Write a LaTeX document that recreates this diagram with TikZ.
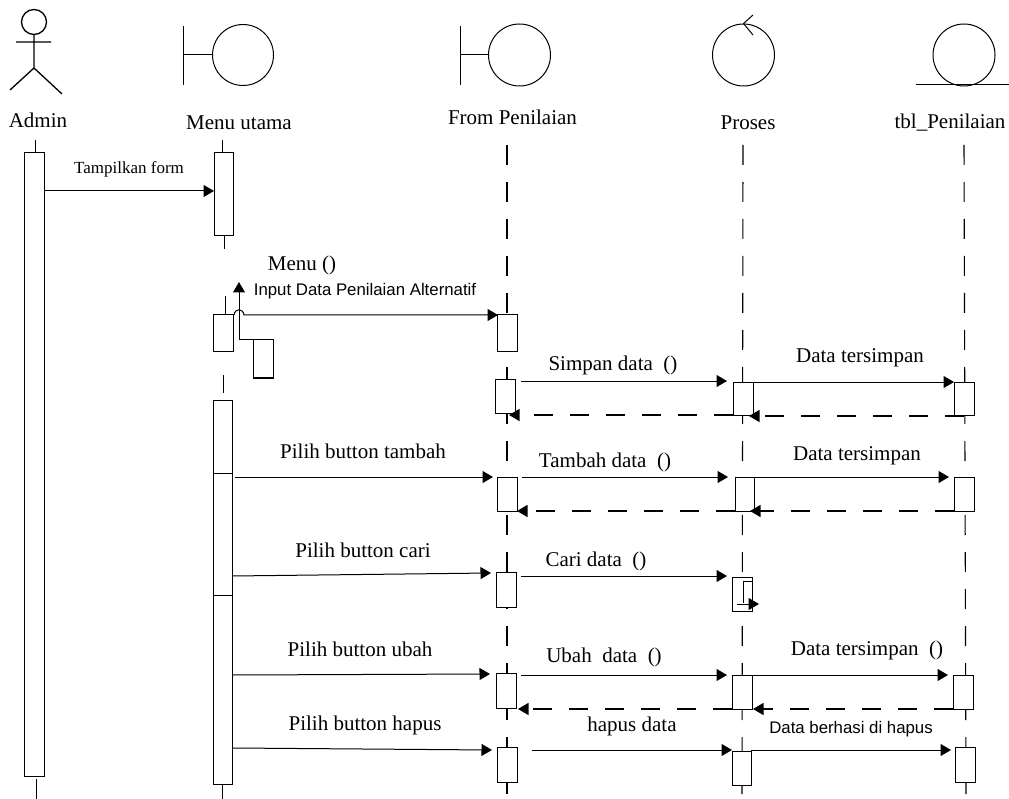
\documentclass[tikz,border=0pt]{standalone}
\usepackage{fontspec}
\setmainfont{Liberation Serif}
\newfontfamily\lsans{Liberation Sans}
\usetikzlibrary{arrows.meta}
\tikzset{
  every picture/.style={x=1pt,y=-1pt,line width=1pt},
  obj/.style={draw,circle,inner sep=0pt,minimum size=#1},
  act/.style={draw,fill=white,rectangle,inner sep=0pt},
  lbl/.style={inner sep=0pt,yshift=-1.5pt,font=\fontsize{21}{24}\selectfont},
  lblsmall/.style={inner sep=0pt,yshift=-1pt,font=\fontsize{17}{20}\selectfont},
  lblsans/.style={inner sep=0pt,yshift=-1pt,font=\lsans\fontsize{16.8}{19}\selectfont},
  life/.style={line width=1pt},
  dashlife/.style={line width=1.1pt,dash pattern=on 20pt off 17pt},
  msgline/.style={-{Triangle[length=10.5pt,width=12pt]},line width=1pt},
  retline/.style={-{Triangle[length=10.5pt,width=12pt]},line width=1.1pt,dash pattern=on 19pt off 17pt},
}
% \abox{name}{x1}{y1}{x2}{y2}
\newcommand{\abox}[5]{\pgfmathsetmacro{\bw}{#4-#2}\pgfmathsetmacro{\bh}{#5-#3}%
  \node[act,minimum width=\bw pt,minimum height=\bh pt] (#1) at ({(#2+#4)/2},{(#3+#5)/2}) {};}
% \msg{style}{name}{start}{end}
\newcommand{\msg}[4]{\coordinate (#2s) at (#3); \coordinate (#2t) at (#4); \draw[#1] (#2s) -- (#2t);}
% \seg{name}{start}{end}
\newcommand{\seg}[3]{\coordinate (#1s) at (#2); \coordinate (#1t) at (#3); \draw[life] (#1s) -- (#1t);}
\begin{document}
\begin{tikzpicture}
\useasboundingbox (0,0) rectangle (1009,799);
% actor
\node[obj=25pt,line width=1.3pt] (head) at (34,22) {};
\coordinate (hip) at (34,68);
\coordinate (armL) at (16,42); \coordinate (armR) at (51,42);
\coordinate (legL) at (10,90); \coordinate (legR) at (62,94);
\draw[line width=1.3pt] (head.south) -- (hip) (armL) -- (armR) (legL) -- (hip) -- (legR);
% boundaries
\node[obj=61pt] (menuC) at (243,55) {};
\coordinate (menuB) at (183,55);
\draw (183,26) -- (183,85) (menuB) -- (menuC.west);
\node[obj=62pt] (formC) at (519.5,55) {};
\coordinate (formB) at (460,55);
\draw (460,26) -- (460,85) (formB) -- (formC.west);
% control
\node[obj=62pt] (procC) at (743.5,55) {};
\coordinate (procA) at (753,15); \coordinate (procD) at (753,35);
\draw (procA) -- (procC.north) -- (procD);
% entity
\node[obj=62pt] (entC) at (964,55) {};
\coordinate (entL) at (916,85); \coordinate (entR) at (1009,85);
\draw (entL) -- (entR);
% titles
\node[lbl] (tAdmin) at (38,119) {Admin};
\node[lbl] (tMenu) at (239,121) {Menu utama};
\node[lbl] (tForm) at (512.5,116) {From Penilaian};
\node[lbl] (tProc) at (748,121) {Proses};
\node[lbl] (tEnt) at (950,121) {tbl\_Penilaian};
% lifelines
\seg{lA}{35,140}{35,153}
\seg{lB}{36,779}{36,799}
\seg{lC}{222,140}{222,153}
\seg{lD}{224,236}{224,249}
\seg{lE}{225,296}{225,315}
\seg{lF}{223,375}{223,393}
\seg{lG}{222,784}{222,799}
\coordinate (lifeFt) at (507,145); \coordinate (lifeFb) at (507,799);
\coordinate (lifePt) at (743,145); \coordinate (lifePb) at (742,799);
\coordinate (lifeTt) at (964,145); \coordinate (lifeTb) at (966,799);
\draw[dashlife] (lifeFt) -- (lifeFb);
\draw[dashlife] (lifePt) -- (lifePb);
\draw[dashlife] (lifeTt) -- (lifeTb);
% activation boxes
\abox{a0}{24.5}{153}{44}{776}
\abox{m0}{214}{153}{233}{236}
\abox{m1}{213.5}{315}{233.5}{352}
\abox{m2}{253}{340}{273}{378}
\abox{m3}{213}{400}{232}{473}
\abox{m4}{213}{473}{232}{595}
\abox{m5}{213}{595}{232}{784}
\abox{f1}{497}{315}{517}{352}
\abox{f2}{495}{379}{515.5}{413.5}
\abox{f3}{497}{477}{517}{511}
\abox{f4}{496}{572}{516}{607}
\abox{f5}{496}{673}{516}{708}
\abox{f6}{497}{747}{517}{782}
\abox{p2}{733}{382}{753}{415}
\abox{p3}{735}{477}{754}{511}
\abox{p4}{732}{577}{752}{611}
\abox{p5}{732}{675}{752}{709}
\abox{p6}{732}{751}{751}{785}
\abox{t2}{954}{382}{974}{415}
\abox{t3}{954}{477}{974}{511}
\abox{t5}{953}{675}{973}{709}
\abox{t6}{955}{747}{975}{782}
% messages
\msg{msgline}{x1}{44,191}{214,191}
\coordinate (h1) at (234,315); \coordinate (h2) at (244,315); \coordinate (x2t) at (498,315);
\draw[msgline] (m1.east |- h1) -- (h1) .. controls (235,308) and (243,308) .. (h2) -- (x2t);
\coordinate (s1) at (253,340); \coordinate (s2) at (239,340); \coordinate (s3) at (239,282);
\draw[msgline] (s1) -- (s2) -- (s3);
\msg{msgline}{x3}{521,381}{727,381}
\msg{msgline}{x4}{753,382}{954,382}
\msg{retline}{x5}{964,416}{749,416}
\msg{retline}{x6}{733,415}{509,415}
\msg{msgline}{x7}{235,477}{493,477}
\msg{msgline}{x8}{522,477}{728,477}
\msg{msgline}{x9}{754,477}{949,477}
\msg{retline}{x10}{954,511}{750,511}
\msg{retline}{x11}{735,511}{517,511}
\msg{msgline}{x12}{232,576}{491,573}
\msg{msgline}{x13}{521,576}{727,576}
\coordinate (c1) at (743,603); \coordinate (c2) at (743,581); \coordinate (c3) at (752,581);
\draw (c1) -- (c2) -- (c3);
\msg{msgline}{x14}{737,604}{759,604}
\msg{msgline}{x15}{232,675}{490,674}
\msg{msgline}{x16}{521,675}{727,675}
\msg{msgline}{x17}{752,675}{948,675}
\msg{retline}{x18}{953,709}{753,709}
\msg{retline}{x19}{732,709}{518,709}
\msg{msgline}{x20}{233,748}{492,750}
\msg{msgline}{x21}{532,750}{732,750}
\msg{msgline}{x22}{751,750}{951,750}
% labels
\node[lblsmall] (l1) at (129,168) {Tampilkan form};
\node[lbl] (l2) at (302,264) {Menu ()};
\node[lblsans] (l3) at (365,290) {Input Data Penilaian Alternatif};
\node[lbl] (l4) at (613,364) {Simpan data\ \ ()};
\node[lbl] (l5) at (860,356) {Data tersimpan};
\node[lbl] (l6) at (363,450) {Pilih button tambah};
\node[lbl] (l7) at (605,461) {Tambah data\ \ ()};
\node[lbl] (l8) at (857,454) {Data tersimpan};
\node[lbl] (l9) at (363,549) {Pilih button cari};
\node[lbl] (l10) at (596,560) {Cari data\ \ ()};
\node[lbl] (l11) at (360,648) {Pilih button ubah};
\node[lbl] (l12) at (604,656) {Ubah\ \ data\ \ ()};
\node[lbl] (l13) at (867,649) {Data tersimpan\ \ ()};
\node[lbl] (l14) at (365,724) {Pilih button hapus};
\node[lbl] (l15) at (632,725) {hapus data};
\node[lblsans] (l16) at (851,728) {Data berhasi di hapus};
\end{tikzpicture}
\end{document}
